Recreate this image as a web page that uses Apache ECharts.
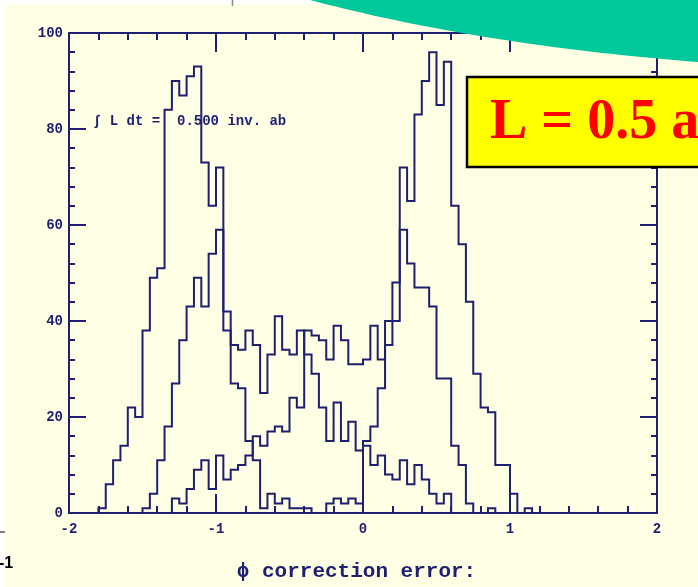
<!DOCTYPE html>
<html>
<head>
<meta charset="utf-8">
<script src="https://cdn.jsdelivr.net/npm/echarts@6/dist/echarts.min.js"></script>
<style>
  html, body { margin: 0; padding: 0; background: #ffffff; }
  #chart { width: 698px; height: 587px; }
</style>
</head>
<body>
<div id="chart"></div>
<script>
// Histogram binning: 0.05 wide bins on the phi correction error axis
const BIN_WIDTH = 0.05;

// Entries per bin, each list starting at the given lower bin edge
const firstEdgeA = -1.80;
const countsA = [1, 6, 11, 14, 22, 20, 38, 49, 51, 84,
                 90, 87, 91, 93, 73, 64, 72, 42, 27, 26,
                 15, 11, 1, 4, 2, 3, 1, 1, 1];

const firstEdgeB = -1.50;
const countsB = [1, 4, 11, 18, 27, 36, 43, 49, 43, 54,
                 59, 38, 35, 34, 38, 35, 25, 33, 41, 34,
                 33, 38, 33, 29, 22, 15, 23, 15, 19, 13,
                 14, 10, 12, 8, 7, 11, 6, 10, 7, 4,
                 2, 4];

const firstEdgeC = -1.30;
const countsC = [3, 2, 5, 9, 11, 5, 12, 7, 9, 10,
                 12, 16, 14, 17, 18, 17, 24, 22, 38, 37,
                 36, 32, 39, 36, 31, 31, 32, 39, 32, 40,
                 48, 59, 52, 47, 47, 43, 28, 28, 14, 10,
                 2, 0, 0, 1];

const firstEdgeD = -0.25;
const countsD = [2, 3, 2, 3, 2, 15, 18, 26, 35, 40,
                 72, 65, 83, 90, 96, 85, 94, 64, 56, 44,
                 29, 22, 21, 10, 10, 4, 0, 1];

// Axis ranges and texts
const xRange = [-2, 2];
const yRange = [0, 100];
const xTitle = 'ϕ correction error:';
const lumiText = '∫ L dt =  0.500 inv. ab';
const boxText = 'L = 0.5 ab⁻¹';

const NAVY = '#1f1f70';

// Outline points of a histogram drawn as a stepped line
function histPoints(firstEdge, counts) {
  const pts = [[firstEdge, 0]];
  counts.forEach((c, i) => pts.push([+(firstEdge + i * BIN_WIDTH).toFixed(3), c]));
  pts.push([+(firstEdge + counts.length * BIN_WIDTH).toFixed(3), 0]);
  return pts;
}

function histSeries(name, firstEdge, counts) {
  return {
    name: name,
    type: 'line',
    step: 'end',
    data: histPoints(firstEdge, counts),
    symbol: 'none',
    showSymbol: false,
    lineStyle: { color: NAVY, width: 2, join: 'miter' },
    animation: false,
    z: 3
  };
}

const tickStyle = { color: NAVY, width: 2 };
const labelStyle = { color: NAVY, fontFamily: 'Liberation Mono', fontWeight: 'bold', fontSize: 14 };

function xAxisDef(position, withLabels) {
  return {
    type: 'value', position: position, min: xRange[0], max: xRange[1], interval: 1,
    axisLine: { show: true, onZero: false, lineStyle: { color: NAVY, width: 2 } },
    axisTick: { show: true, inside: true, length: 19, lineStyle: tickStyle },
    minorTick: { show: true, splitNumber: 5, length: 7, lineStyle: tickStyle },
    splitLine: { show: false }, minorSplitLine: { show: false },
    axisLabel: Object.assign({ show: withLabels, margin: 9 }, labelStyle)
  };
}

function yAxisDef(position, withLabels) {
  return {
    type: 'value', position: position, min: yRange[0], max: yRange[1], interval: 20,
    axisLine: { show: true, onZero: false, lineStyle: { color: NAVY, width: 2 } },
    axisTick: { show: true, inside: true, length: 17, lineStyle: tickStyle },
    minorTick: { show: true, splitNumber: 5, length: 6, lineStyle: tickStyle },
    splitLine: { show: false }, minorSplitLine: { show: false },
    axisLabel: Object.assign({ show: withLabels, margin: 6 }, labelStyle)
  };
}

const bottomAxis = xAxisDef('bottom', true);
bottomAxis.name = xTitle;
bottomAxis.nameLocation = 'middle';
bottomAxis.nameGap = 48;
bottomAxis.nameTextStyle = {
  color: NAVY, fontFamily: 'Liberation Mono', fontWeight: 'bold', fontSize: 21,
  padding: [0, 13, 0, 0]
};

// Teal banner edge along a quadratic curve in the top-right corner
function bannerPolygon() {
  const p0 = [310, 0], p1 = [480, 45], p2 = [698, 62];
  const pts = [];
  for (let i = 0; i <= 40; i++) {
    const t = i / 40, u = 1 - t;
    pts.push([u * u * p0[0] + 2 * u * t * p1[0] + t * t * p2[0],
              u * u * p0[1] + 2 * u * t * p1[1] + t * t * p2[1]]);
  }
  pts.push([698, 0]);
  return pts;
}

const chart = echarts.init(document.getElementById('chart'), null, { renderer: 'canvas' });

chart.setOption({
  backgroundColor: '#ffffe6',
  animation: false,
  grid: { left: 69, right: 41, top: 33, bottom: 70, containLabel: false },
  xAxis: [bottomAxis, xAxisDef('top', false)],
  yAxis: [yAxisDef('left', true), yAxisDef('right', false)],
  series: [
    histSeries('A', firstEdgeA, countsA),
    histSeries('B', firstEdgeB, countsB),
    histSeries('C', firstEdgeC, countsC),
    histSeries('D', firstEdgeD, countsD)
  ],
  graphic: [
    { type: 'rect', z: 100, silent: true, shape: { x: 0, y: 0, width: 698, height: 4 }, style: { fill: '#ffffff' } },
    { type: 'rect', z: 100, silent: true, shape: { x: 0, y: 0, width: 5, height: 587 }, style: { fill: '#ffffff' } },
    { type: 'line', z: 101, silent: true, shape: { x1: 232.5, y1: 0, x2: 232.5, y2: 6 }, style: { stroke: '#8a8a8a', lineWidth: 1.5 } },
    { type: 'text', z: 1, silent: true, x: 93, y: 121,
      style: { text: lumiText, font: 'bold 14px "Liberation Mono"', fill: NAVY, verticalAlign: 'middle' } },
    { type: 'polygon', z: 100, silent: true, shape: { points: bannerPolygon() }, style: { fill: '#00c89a' } },
    { type: 'rect', z: 101, silent: true, shape: { x: 467, y: 77, width: 260, height: 90 },
      style: { fill: '#ffff00', stroke: '#000000', lineWidth: 2.5 } },
    { type: 'text', z: 102, silent: true, x: 490, y: 124,
      style: { text: boxText, font: 'bold 56px "Liberation Serif"', fill: '#ff0000', verticalAlign: 'middle' } },
    { type: 'line', z: 101, silent: true, shape: { x1: 0, y1: 532, x2: 5, y2: 532 }, style: { stroke: '#555555', lineWidth: 1.5 } },
    { type: 'text', z: 102, silent: true, x: -1, y: 564,
      style: { text: '-1', font: 'bold 16px "Liberation Sans"', fill: '#000000', verticalAlign: 'middle' } }
  ]
});
</script>
</body>
</html>
